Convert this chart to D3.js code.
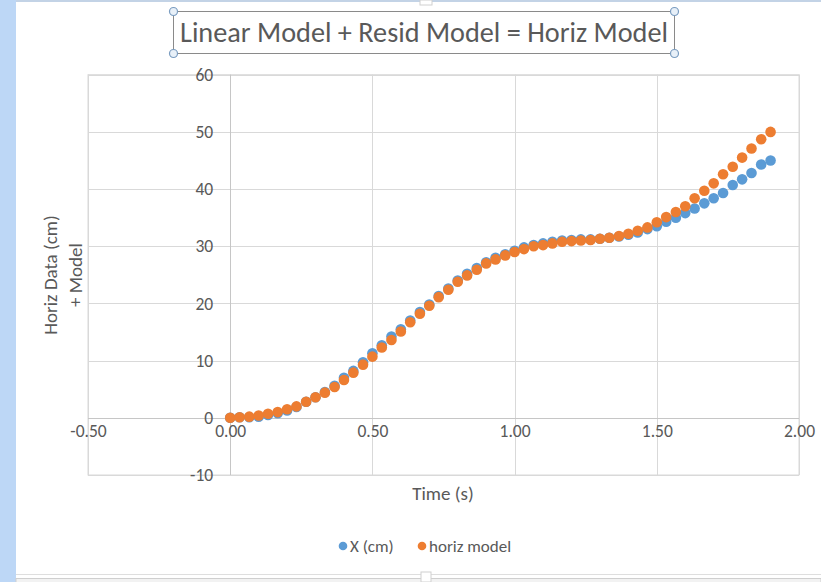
<!DOCTYPE html>
<html>
<head>
<meta charset="utf-8">
<script src="https://cdn.jsdelivr.net/npm/d3@7"></script>
<style>
  html, body { margin: 0; padding: 0; background: #fff; overflow: hidden; }
  svg { display: block; }
  text { font-family: Carlito, Lato, "Open Sans", sans-serif; fill: #595959; }
</style>
</head>
<body>
<svg id="chart" width="821" height="582"></svg>
<script>
const chartTitle = "Linear Model + Resid Model = Horiz Model";
const xTitle = "Time (s)";
const yTitleLines = ["Horiz Data (cm)", "+ Model"];
const seriesNames = ["X (cm)", "horiz model"];
const xTicks = [-0.5, 0, 0.5, 1.0, 1.5, 2.0];
const yTicks = [-10, 0, 10, 20, 30, 40, 50, 60];

const time = [0.000,0.033,0.067,0.100,0.133,0.167,0.200,0.233,0.267,0.300,
  0.333,0.367,0.400,0.433,0.467,0.500,0.533,0.567,0.600,0.633,
  0.667,0.700,0.733,0.767,0.800,0.833,0.867,0.900,0.933,0.967,
  1.000,1.033,1.067,1.100,1.133,1.167,1.200,1.233,1.267,1.300,
  1.333,1.367,1.400,1.433,1.467,1.500,1.533,1.567,1.600,1.633,
  1.667,1.700,1.733,1.767,1.800,1.833,1.867,1.900];

const xData = [0,0.1,0.1,0.2,0.5,0.8,1.3,1.9,2.8,3.6,
  4.5,5.6,7.0,8.2,9.7,11.3,12.7,14.2,15.5,17.0,
  18.5,19.8,21.3,22.6,24.0,25.2,26.2,27.2,28.0,28.6,
  29.2,29.8,30.2,30.5,30.8,31.0,31.1,31.2,31.2,31.3,
  31.5,31.7,32.0,32.4,33.0,33.5,34.3,35.0,35.8,36.6,
  37.5,38.4,39.3,40.7,41.7,42.8,44.3,45.0];

const horizModel = [0,0.1,0.2,0.4,0.7,1.0,1.5,2.0,2.8,3.6,
  4.4,5.4,6.6,7.9,9.3,10.7,12.3,13.6,15.1,16.7,
  18.2,19.6,21.1,22.4,23.8,24.9,25.9,27.0,27.7,28.4,
  29.0,29.5,30.0,30.2,30.5,30.8,30.9,31.0,31.1,31.3,
  31.5,31.8,32.2,32.7,33.3,34.2,35.1,36.0,37.0,38.4,
  39.7,41.0,42.6,43.9,45.5,47.1,48.7,50.0];

const colors = ["#5B9BD5", "#ED7D31"];

const svg = d3.select("#chart");
const loc = d3.formatLocale({ decimal: ".", thousands: ",", grouping: [3], currency: ["$", ""], minus: "-" });

// window chrome
svg.append("rect").attr("x", 0).attr("y", 0).attr("width", 16).attr("height", 582).attr("fill", "#bdd7f6");
svg.append("rect").attr("x", 16).attr("y", 0).attr("width", 805).attr("height", 2).attr("fill", "#c3d3e6");
svg.append("rect").attr("x", 420).attr("y", 0).attr("width", 12).attr("height", 5).attr("fill", "#fff").attr("stroke", "#d0d0d0");
svg.append("line").attr("x1", 16).attr("x2", 821).attr("y1", 574.5).attr("y2", 574.5).attr("stroke", "#dedede");
svg.append("rect").attr("x", 16).attr("y", 578.5).attr("width", 805).attr("height", 4).attr("fill", "#f2f2f2").attr("stroke", "#cfcfcf");
svg.append("rect").attr("x", 421).attr("y", 572).attr("width", 10).attr("height", 10).attr("fill", "#fff").attr("stroke", "#d0d0d0");

const x = d3.scaleLinear().domain([-0.5, 2.0]).range([88, 799]);
const y = d3.scaleLinear().domain([-10, 60]).range([475, 74.7]);

// plot area border
svg.append("rect").attr("x", x(-0.5)).attr("y", y(60)).attr("width", x(2) - x(-0.5)).attr("height", y(-10) - y(60))
  .attr("fill", "none").attr("stroke", "#d9d9d9");

// gridlines
svg.append("g").selectAll("line").data(xTicks).join("line")
  .attr("x1", d => Math.round(x(d)) + 0.5).attr("x2", d => Math.round(x(d)) + 0.5)
  .attr("y1", y(60)).attr("y2", y(-10)).attr("stroke", "#d9d9d9");
svg.append("g").selectAll("line").data(yTicks).join("line")
  .attr("y1", d => Math.round(y(d)) + 0.5).attr("y2", d => Math.round(y(d)) + 0.5)
  .attr("x1", x(-0.5)).attr("x2", x(2)).attr("stroke", "#d9d9d9");

// axis lines at zero
svg.append("line").attr("x1", Math.round(x(0)) + 0.5).attr("x2", Math.round(x(0)) + 0.5)
  .attr("y1", y(60)).attr("y2", y(-10)).attr("stroke", "#c6c6c6");
svg.append("line").attr("x1", x(-0.5)).attr("x2", x(2))
  .attr("y1", Math.round(y(0)) + 0.5).attr("y2", Math.round(y(0)) + 0.5).attr("stroke", "#c6c6c6");

// axes (labels only)
const yAxis = d3.axisLeft(y).tickValues(yTicks).tickSize(0).tickPadding(17).tickFormat(loc.format("d"));
const gy = svg.append("g").attr("transform", `translate(${x(0)},0)`).call(yAxis);
gy.select(".domain").remove();
gy.selectAll("text").style("font-family", "Carlito, Lato, sans-serif").style("font-size", "17.5px").attr("fill", "#595959");

const xAxis = d3.axisBottom(x).tickValues(xTicks).tickSize(0).tickPadding(7).tickFormat(loc.format(".2f"));
const gx = svg.append("g").attr("transform", `translate(0,${y(0)})`).call(xAxis);
gx.select(".domain").remove();
gx.selectAll("text").style("font-family", "Carlito, Lato, sans-serif").style("font-size", "17.5px").attr("fill", "#595959");

// data points
const series = [xData, horizModel];
series.forEach((vals, i) => {
  svg.append("g").selectAll("circle").data(vals).join("circle")
    .attr("cx", (d, j) => x(time[j]))
    .attr("cy", d => y(d))
    .attr("r", 5.3)
    .attr("fill", colors[i]);
});

// title box
svg.append("rect").attr("x", 173.5).attr("y", 11.5).attr("width", 501).attr("height", 42)
  .attr("fill", "none").attr("stroke", "#8a8a8a").attr("stroke-width", 1);
svg.append("text").attr("x", 424).attr("y", 42).attr("text-anchor", "middle")
  .style("font-size", "28px").style("font-weight", 300)
  .attr("textLength", 488).attr("lengthAdjust", "spacingAndGlyphs")
  .text(chartTitle);
[[173.5, 11.5], [674.5, 11.5], [173.5, 53.5], [674.5, 53.5]].forEach(p => {
  svg.append("circle").attr("cx", p[0]).attr("cy", p[1]).attr("r", 4)
    .attr("fill", "#e8f0f8").attr("stroke", "#7a9cc0").attr("stroke-width", 1.2);
});

// axis titles
svg.append("text").attr("x", 443).attr("y", 500).attr("text-anchor", "middle")
  .style("font-size", "19px").text(xTitle);
const yt = svg.append("text").attr("transform", "translate(57,275) rotate(-90)").attr("text-anchor", "middle")
  .style("font-size", "19px");
yTitleLines.forEach((t, i) => {
  yt.append("tspan").attr("x", 0).attr("dy", i === 0 ? 0 : 25).text(t);
});

// legend
const legendItems = [{ name: seriesNames[0], c: colors[0], cx: 343, tx: 350 },
                     { name: seriesNames[1], c: colors[1], cx: 422, tx: 429 }];
legendItems.forEach(it => {
  svg.append("circle").attr("cx", it.cx).attr("cy", 546).attr("r", 4.3).attr("fill", it.c);
  svg.append("text").attr("x", it.tx).attr("y", 552).style("font-size", "17px").text(it.name);
});
</script>
</body>
</html>
